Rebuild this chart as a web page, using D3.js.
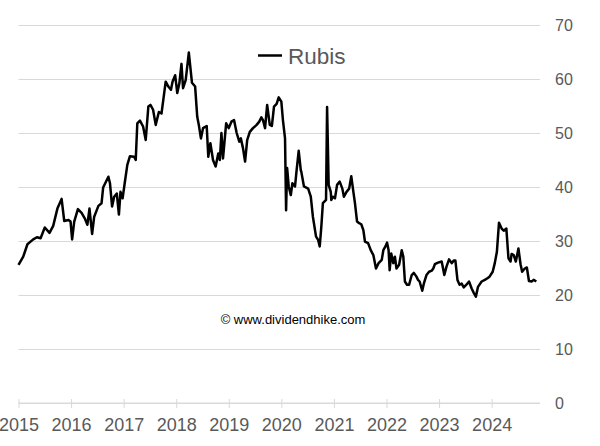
<!DOCTYPE html>
<html>
<head>
<meta charset="utf-8">
<script src="https://cdn.jsdelivr.net/npm/d3@7"></script>
<style>
  html, body { margin: 0; padding: 0; background: #fff; }
  svg { display: block; }
  text { font-family: "Liberation Sans", Arial, sans-serif; }
</style>
</head>
<body>
<script>
// ---- Data ----
const seriesName = "Rubis";
const years = [
  2015.00,2015.09,2015.17,2015.28,2015.35,2015.42,2015.50,2015.59,2015.66,2015.74,
  2015.82,2015.87,2015.95,2015.99,2016.02,2016.06,2016.13,2016.20,2016.26,2016.31,
  2016.35,2016.40,2016.44,2016.52,2016.58,2016.61,2016.71,2016.74,2016.78,2016.82,
  2016.87,2016.91,2016.94,2016.98,2017.02,2017.07,2017.12,2017.20,2017.23,2017.26,
  2017.31,2017.37,2017.42,2017.47,2017.51,2017.56,2017.61,2017.67,2017.72,2017.80,
  2017.85,2017.90,2017.93,2017.98,2018.02,2018.06,2018.10,2018.13,2018.18,2018.24,
  2018.30,2018.36,2018.40,2018.43,2018.47,2018.51,2018.58,2018.61,2018.65,2018.70,
  2018.75,2018.80,2018.83,2018.86,2018.89,2018.95,2019.00,2019.05,2019.10,2019.15,
  2019.20,2019.23,2019.27,2019.31,2019.35,2019.40,2019.46,2019.53,2019.58,2019.62,
  2019.65,2019.69,2019.73,2019.78,2019.82,2019.86,2019.91,2019.95,2020.00,2020.03,
  2020.07,2020.09,2020.11,2020.14,2020.18,2020.21,2020.26,2020.29,2020.33,2020.37,
  2020.38,2020.43,2020.51,2020.56,2020.60,2020.66,2020.70,2020.73,2020.76,2020.79,
  2020.85,2020.87,2020.90,2020.94,2020.95,2020.98,2021.02,2021.06,2021.11,2021.16,
  2021.19,2021.24,2021.29,2021.33,2021.37,2021.40,2021.44,2021.48,2021.52,2021.56,
  2021.59,2021.65,2021.70,2021.75,2021.80,2021.85,2021.91,2021.94,2021.98,2022.01,
  2022.04,2022.06,2022.09,2022.13,2022.16,2022.19,2022.24,2022.29,2022.32,2022.35,
  2022.39,2022.43,2022.48,2022.52,2022.57,2022.60,2022.63,2022.68,2022.71,2022.76,
  2022.81,2022.86,2022.89,2022.92,2022.98,2023.05,2023.10,2023.14,2023.19,2023.24,
  2023.28,2023.31,2023.35,2023.39,2023.43,2023.47,2023.52,2023.57,2023.62,2023.66,
  2023.70,2023.74,2023.81,2023.87,2023.92,2023.96,2024.02,2024.06,2024.10,2024.14,
  2024.19,2024.23,2024.28,2024.32,2024.36,2024.38,2024.42,2024.46,2024.51,2024.55,
  2024.58,2024.63,2024.67,2024.71,2024.76,2024.80,2024.85
];
const prices = [
  25.6,27.1,29.4,30.3,30.7,30.5,32.5,31.5,32.8,36.0,
  37.8,33.7,33.9,33.6,30.3,33.6,35.9,35.2,34.2,33.0,
  36.0,31.3,34.5,36.5,37.0,39.9,41.9,40.7,36.4,38.2,
  38.8,34.9,39.1,37.9,40.7,44.1,45.7,45.6,45.0,51.8,
  52.3,51.2,48.7,54.9,55.2,54.3,51.5,53.9,53.6,59.5,
  58.6,58.0,59.5,60.7,57.4,59.2,62.8,58.3,59.8,64.9,
  59.3,58.6,53.0,51.5,49.0,50.9,51.3,45.6,48.1,45.0,
  43.8,46.2,45.0,50.0,45.3,51.8,50.9,52.1,52.4,50.0,
  48.4,49.0,47.2,44.7,48.7,50.2,50.9,51.5,52.1,52.9,
  52.4,50.9,55.2,51.5,51.3,54.9,55.4,56.6,55.8,52.4,
  49.0,35.7,43.5,40.1,38.5,40.7,40.1,43.1,46.7,43.1,
  42.8,40.1,39.7,38.2,34.5,30.8,30.2,29.0,32.6,37.0,
  37.6,54.8,40.4,39.1,37.6,38.2,37.9,40.4,41.0,39.7,
  38.2,39.1,39.7,42.0,39.1,37.0,33.6,33.3,33.1,32.0,
  29.9,29.6,28.3,27.4,24.9,25.9,26.5,28.3,29.0,29.7,
  28.3,24.6,27.7,25.9,27.1,24.9,25.6,28.3,27.1,22.5,
  21.9,21.9,23.7,24.1,23.4,22.8,22.5,20.8,22.1,23.7,
  24.3,24.5,24.9,25.7,26.0,26.2,23.7,25.2,26.6,25.9,
  26.4,26.4,22.8,21.9,22.1,21.4,21.9,22.5,21.2,20.4,
  19.7,21.5,22.5,22.8,23.1,23.4,24.3,25.9,28.0,33.4,
  32.3,31.9,32.3,26.8,26.2,27.6,27.4,26.2,28.6,25.7,
  24.3,24.9,25.1,22.6,22.5,22.8,22.5
];
const xTickYears = [2015,2016,2017,2018,2019,2020,2021,2022,2023,2024];
const yTickValues = [0,10,20,30,40,50,60,70];
const watermark = "\u00A9 www.dividendhike.com";

// ---- Layout ----
const W = 600, H = 446;
const plotLeft = 18.5, plotRight = 540, plotTop = 25, plotBottom = 403;
const gridColor = "#d9d9d9", labelColor = "#595959";

const svg = d3.select("body").append("svg").attr("width", W).attr("height", H);

const x = d3.scaleLinear().domain([2015, 2024.92]).range([plotLeft, plotRight]);
const y = d3.scaleLinear().domain([0, 70]).range([plotBottom, plotTop]);

// Gridlines + right-side value labels
const yAxis = d3.axisRight(y).tickValues(yTickValues).tickSize(-(plotRight - plotLeft)).tickPadding(15)
  .tickFormat(d3.format("d"));
const gy = svg.append("g").attr("transform", `translate(${plotRight},0)`).call(yAxis);
gy.select(".domain").remove();
gy.selectAll(".tick line").attr("stroke", gridColor).attr("stroke-width", 1);
gy.selectAll(".tick text").attr("fill", labelColor).attr("font-size", 16)
  .attr("font-family", "'Liberation Sans', Arial, sans-serif").attr("text-anchor", "start");

// X axis (ticks at year starts, crossing the axis line)
const xAxis = d3.axisBottom(x).tickValues(xTickYears).tickSize(5).tickPadding(10)
  .tickFormat(d3.format("d"));
const gx = svg.append("g").attr("transform", `translate(0,${plotBottom})`).call(xAxis);
gx.select(".domain").attr("stroke", gridColor).attr("d", `M${plotLeft},0H${plotRight}`);
gx.selectAll(".tick line").attr("stroke", gridColor).attr("y1", -4);
gx.selectAll(".tick text").attr("fill", labelColor).attr("font-size", 18)
  .attr("font-family", "'Liberation Sans', Arial, sans-serif");

// Line
const data = years.map((t, i) => ({ t, v: prices[i] }));
const line = d3.line().x(d => x(d.t)).y(d => y(d.v));
svg.append("path").datum(data).attr("d", line)
  .attr("fill", "none").attr("stroke", "#000").attr("stroke-width", 2.5)
  .attr("stroke-linejoin", "round");

// Legend
const lg = svg.append("g").attr("transform", "translate(258,55.5)");
lg.append("line").attr("x1", 0).attr("x2", 24).attr("y1", 0).attr("y2", 0)
  .attr("stroke", "#000").attr("stroke-width", 2.5);
lg.append("text").attr("x", 30).attr("y", 8).attr("font-size", 22.5).attr("fill", labelColor)
  .text(seriesName);

// Watermark
svg.append("text").attr("x", 293).attr("y", 324).attr("text-anchor", "middle")
  .attr("font-size", 13).attr("fill", "#000").text(watermark);
</script>
</body>
</html>
